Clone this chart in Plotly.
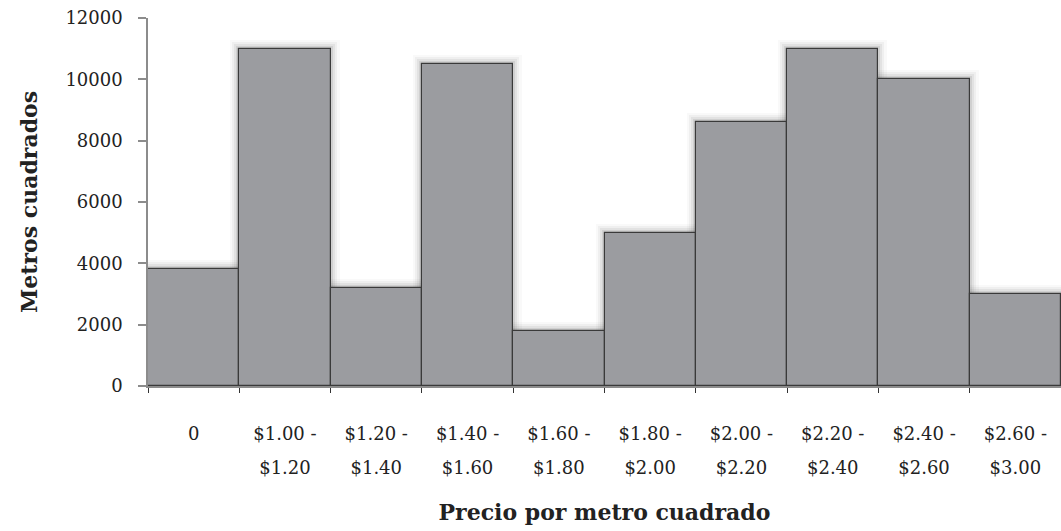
import plotly.graph_objects as go

# Price ranges (per square metre): lower bound on the first label line, upper bound on the second
categories = ["0", "$1.00 - $1.20", "$1.20 - $1.40", "$1.40 - $1.60", "$1.60 - $1.80",
              "$1.80 - $2.00", "$2.00 - $2.20", "$2.20 - $2.40", "$2.40 - $2.60",
              "$2.60 - $3.00"]
label_line1 = ["0", "$1.00 -", "$1.20 -", "$1.40 -", "$1.60 -", "$1.80 -",
               "$2.00 -", "$2.20 -", "$2.40 -", "$2.60 -"]
label_line2 = ["", "$1.20", "$1.40", "$1.60", "$1.80", "$2.00",
               "$2.20", "$2.40", "$2.60", "$3.00"]
metros = [3800, 11000, 3200, 10500, 1800, 5000, 8600, 11000, 10000, 3000]
y_ticks = [0, 2000, 4000, 6000, 8000, 10000, 12000]

FONT = "DejaVu Serif"
BAR = "#9b9ca0"
TXT = "#222"

fig = go.Figure()

# soft glow behind the bars: wide translucent outlines, stacked
for w, a in [(18, 0.03), (13, 0.05), (9, 0.07), (5, 0.1)]:
    fig.add_trace(go.Bar(
        x=categories, y=metros, width=1.0,
        marker=dict(color="rgba(0,0,0,0)", line=dict(color=f"rgba(50,50,50,{a})", width=w)),
        hoverinfo="skip", showlegend=False,
    ))

# the bars themselves
fig.add_trace(go.Bar(
    x=categories, y=metros, width=1.0,
    marker=dict(color=BAR, line=dict(color="#3a3a3a", width=1.2)),
    showlegend=False,
))

# empty trace that carries the overlaid axis holding the second label line
fig.add_trace(go.Scatter(x=[], y=[], xaxis="x2", yaxis="y", showlegend=False,
                         hoverinfo="skip"))

fig.update_layout(
    width=1061, height=531,
    margin=dict(l=148, r=0, t=18, b=145),
    paper_bgcolor="white", plot_bgcolor="white",
    barmode="overlay", bargap=0,
    font=dict(family=FONT, color=TXT, size=18),
    xaxis=dict(
        type="category",
        categoryorder="array", categoryarray=categories,
        tickvals=categories, ticktext=label_line1,
        tickson="boundaries", tickangle=0,
        ticks="outside", ticklen=5, tickcolor="#333", tickwidth=1,
        showline=True, linecolor="#8c8c8c", linewidth=2,
        showgrid=False, automargin=False,
        ticklabelstandoff=30,
        tickfont=dict(family=FONT, size=18, color=TXT),
        title=dict(text="<b>Precio por metro cuadrado</b>",
                   font=dict(family=FONT, size=22, color=TXT), standoff=62),
    ),
    xaxis2=dict(
        overlaying="x", side="bottom", anchor="y",
        range=[-0.5, len(categories) - 0.5],
        tickvals=list(range(len(categories))), ticktext=label_line2,
        tickangle=0,
        ticks="", showline=False, showgrid=False, zeroline=False,
        automargin=False,
        ticklabelstandoff=69,
        tickfont=dict(family=FONT, size=18, color=TXT),
    ),
    yaxis=dict(
        range=[0, 12000], tickvals=y_ticks, ticktext=[str(v) for v in y_ticks],
        ticks="outside", ticklen=8, tickcolor="#8c8c8c", tickwidth=1.5,
        showline=True, linecolor="#8c8c8c", linewidth=1.5,
        showgrid=False, zeroline=False, automargin=False,
        ticklabelstandoff=12,
        tickfont=dict(family=FONT, size=18, color=TXT),
        title=dict(text="<b>Metros cuadrados</b>",
                   font=dict(family=FONT, size=22, color=TXT), standoff=22),
    ),
)

fig.write_html("out.html")
